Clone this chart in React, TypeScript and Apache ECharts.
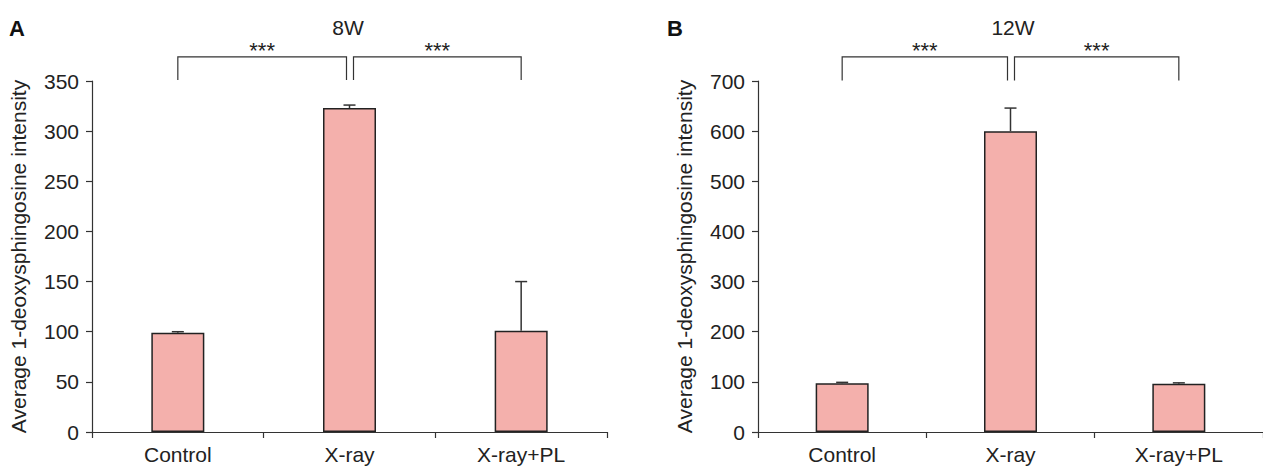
import React, { useEffect, useRef } from "react";
import * as echarts from "echarts";

const categories = ["Control", "X-ray", "X-ray+PL"];
const meanA = [99, 323, 101];
const errA = [1, 3, 49];
const meanB = [97, 600, 96];
const errB = [2, 46, 2];
const ticksA = { min: 0, max: 350, interval: 50 };
const ticksB = { min: 0, max: 700, interval: 100 };
const bracketPairs = [
  [0, 1],
  [1, 2],
];
const sigLabels = ["***", "***"];
const bracketA = [374, 351];
const bracketB = [748, 701];
const titles = ["8W", "12W"];
const panelLabels = ["A", "B"];
const yName = "Average 1-deoxysphingosine intensity";

const FONT = "Liberation Sans, Arial, sans-serif";
const LINE = "#333333";
const BAR = "#F4B0AC";

function errorRender(params: any, api: any) {
  const x = api.value(0);
  const m = api.value(1);
  const e = api.value(2);
  const p0 = api.coord([x, m]);
  const p1 = api.coord([x, m + e]);
  const style = { stroke: LINE, lineWidth: 1.5 };
  return {
    type: "group",
    children: [
      { type: "line", shape: { x1: p0[0], y1: p0[1], x2: p1[0], y2: p1[1] }, style },
      { type: "line", shape: { x1: p1[0] - 6, y1: p1[1], x2: p1[0] + 6, y2: p1[1] }, style },
    ],
  };
}

function bracketRender(params: any, api: any) {
  const a = api.value(0);
  const b = api.value(1);
  const top = api.value(2);
  const bot = api.value(3);
  const pa = api.coord([a, top]);
  const pb = api.coord([b, top]);
  const pbot = api.coord([a, bot]);
  const xa = pa[0] + (params.dataIndex === 1 ? 4 : 0);
  const xb = pb[0] + (params.dataIndex === 0 ? -3 : 0);
  const style = { stroke: LINE, lineWidth: 1.2, fill: "none" };
  return {
    type: "group",
    children: [
      {
        type: "polyline",
        shape: { points: [[xa, pbot[1]], [xa, pa[1]], [xb, pa[1]], [xb, pbot[1]]] },
        style,
      },
      {
        type: "text",
        style: {
          text: sigLabels[params.dataIndex],
          x: (xa + xb) / 2,
          y: pa[1] - 6,
          align: "center",
          verticalAlign: "middle",
          fontSize: 22,
          fontFamily: FONT,
          fill: "#222",
        },
      },
    ],
  };
}

export default function App() {
  const ref = useRef<HTMLDivElement>(null);
  useEffect(() => {
    const chart = echarts.init(ref.current!, undefined, { renderer: "svg" });
    const grids = [
      { left: 92, top: 81, width: 515, height: 351 },
      { left: 758, top: 81, width: 514, height: 351 },
    ];
    const xAxes = grids.map((_, i) => ({
      type: "category",
      gridIndex: i,
      data: categories,
      boundaryGap: true,
      axisLine: { lineStyle: { color: LINE, width: 1.2 } },
      axisTick: { show: true, length: 6, alignWithLabel: false, lineStyle: { color: LINE, width: 1.2 } },
      axisLabel: { fontSize: 21, color: "#222", fontFamily: FONT, margin: 12 },
    }));
    const yAxes = [ticksA, ticksB].map((t, i) => ({
      type: "value",
      gridIndex: i,
      min: t.min,
      max: t.max,
      interval: t.interval,
      name: yName,
      nameLocation: "middle",
      nameGap: 63,
      nameRotate: 90,
      nameTextStyle: { fontSize: 21, color: "#222", fontFamily: FONT },
      axisLine: { show: true, lineStyle: { color: LINE, width: 1.2 } },
      axisTick: { show: true, length: 6, lineStyle: { color: LINE, width: 1.2 } },
      axisLabel: { fontSize: 21, color: "#222", fontFamily: FONT, margin: 13 },
      splitLine: { show: false },
    }));
    const means = [meanA, meanB];
    const errs = [errA, errB];
    const brackets = [bracketA, bracketB];
    const series: any[] = [];
    for (let i = 0; i < 2; i++) {
      series.push({
        type: "bar",
        xAxisIndex: i,
        yAxisIndex: i,
        data: means[i],
        barWidth: 53,
        itemStyle: { color: BAR, borderColor: "#222", borderWidth: 1.5 },
        z: 2,
      });
      series.push({
        type: "custom",
        xAxisIndex: i,
        yAxisIndex: i,
        renderItem: errorRender,
        data: means[i].map((m, k) => [k, m, errs[i][k]]),
        encode: { x: 0, y: 1 },
        clip: false,
        z: 3,
      });
      series.push({
        type: "custom",
        xAxisIndex: i,
        yAxisIndex: i,
        renderItem: bracketRender,
        data: bracketPairs.map((p) => [p[0], p[1], brackets[i][0], brackets[i][1]]),
        encode: { x: 0, y: 2 },
        clip: false,
        z: 3,
      });
    }
    chart.setOption({
      animation: false,
      grid: grids,
      xAxis: xAxes,
      yAxis: yAxes,
      series,
      graphic: [
        { type: "text", left: 9, top: 17, style: { text: panelLabels[0], fontSize: 22, fontWeight: "bold", fontFamily: FONT, fill: "#111" } },
        { type: "text", left: 667, top: 17, style: { text: panelLabels[1], fontSize: 22, fontWeight: "bold", fontFamily: FONT, fill: "#111" } },
        { type: "text", x: 348, y: 27, style: { text: titles[0], fontSize: 21, fontFamily: FONT, fill: "#222", align: "center", verticalAlign: "middle" } },
        { type: "text", x: 1013, y: 27, style: { text: titles[1], fontSize: 21, fontFamily: FONT, fill: "#222", align: "center", verticalAlign: "middle" } },
      ],
    });
    return () => chart.dispose();
  }, []);
  return (
    <div
      ref={ref}
      style={{ position: "absolute", left: 0, top: 0, width: 1263, height: 466, background: "#fff" }}
    />
  );
}
